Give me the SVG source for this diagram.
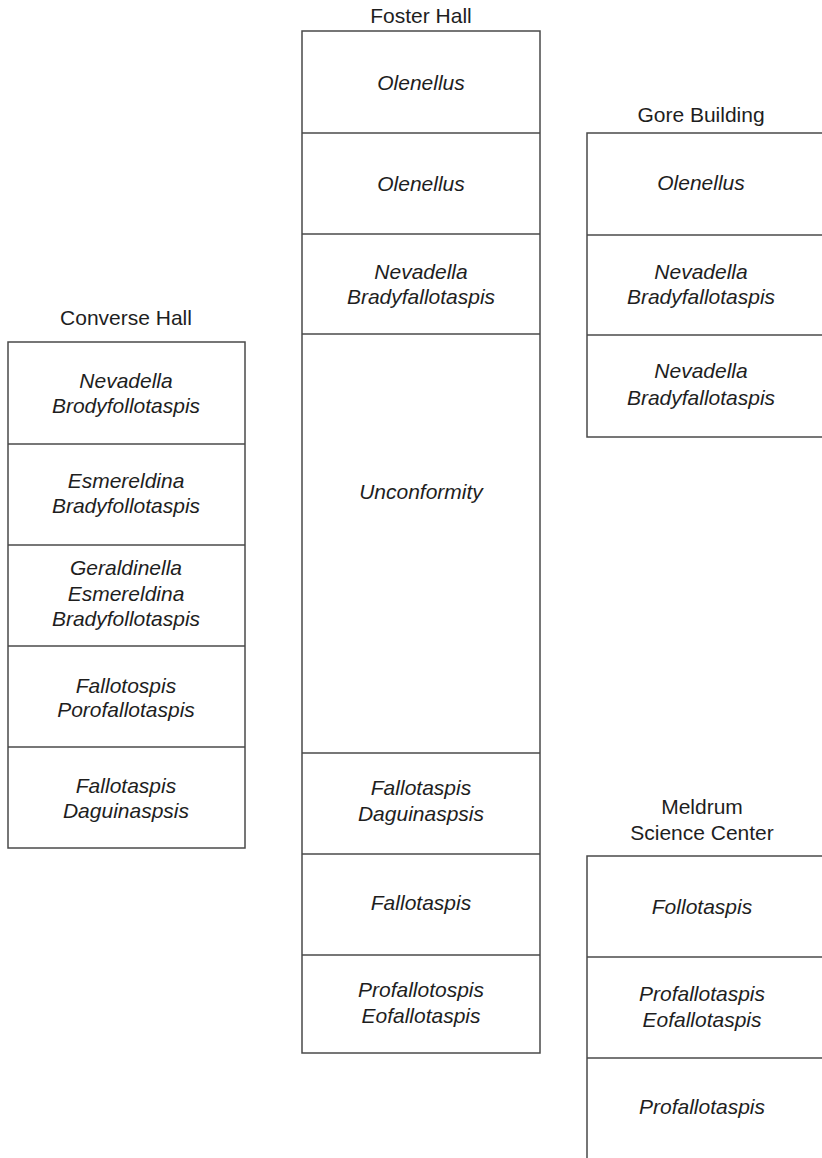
<svg xmlns="http://www.w3.org/2000/svg" width="822" height="1158" viewBox="0 0 822 1158">
<style>
  .box { fill: #ffffff; stroke: #4a4a4a; stroke-width: 1.5; }
  .div { stroke: #4a4a4a; stroke-width: 1.5; }
  text { font-family: "Liberation Sans", Arial, sans-serif; font-size: 21px; fill: #1e1e1e; text-anchor: middle; }
  .t { font-style: italic; }
</style>
<rect width="822" height="1158" fill="#ffffff"/>

<g id="converse-hall">
  <text x="126" y="325">Converse Hall</text>
  <rect class="box" x="8" y="342" width="237" height="506"/>
  <line class="div" x1="8" y1="444" x2="245" y2="444"/>
  <line class="div" x1="8" y1="545" x2="245" y2="545"/>
  <line class="div" x1="8" y1="646" x2="245" y2="646"/>
  <line class="div" x1="8" y1="747" x2="245" y2="747"/>
  <text class="t" x="126" y="388">Nevadella</text>
  <text class="t" x="126" y="413">Brodyfollotaspis</text>
  <text class="t" x="126" y="488">Esmereldina</text>
  <text class="t" x="126" y="513">Bradyfollotaspis</text>
  <text class="t" x="126" y="575">Geraldinella</text>
  <text class="t" x="126" y="600.5">Esmereldina</text>
  <text class="t" x="126" y="626">Bradyfollotaspis</text>
  <text class="t" x="126" y="693">Fallotospis</text>
  <text class="t" x="126" y="717">Porofallotaspis</text>
  <text class="t" x="126" y="793">Fallotaspis</text>
  <text class="t" x="126" y="818">Daguinaspsis</text>
</g>

<g id="foster-hall">
  <text x="421" y="23">Foster Hall</text>
  <rect class="box" x="302" y="31" width="238" height="1022"/>
  <line class="div" x1="302" y1="133" x2="540" y2="133"/>
  <line class="div" x1="302" y1="234" x2="540" y2="234"/>
  <line class="div" x1="302" y1="334" x2="540" y2="334"/>
  <line class="div" x1="302" y1="753" x2="540" y2="753"/>
  <line class="div" x1="302" y1="854" x2="540" y2="854"/>
  <line class="div" x1="302" y1="955" x2="540" y2="955"/>
  <text class="t" x="421" y="90">Olenellus</text>
  <text class="t" x="421" y="190.5">Olenellus</text>
  <text class="t" x="421" y="279">Nevadella</text>
  <text class="t" x="421" y="304">Bradyfallotaspis</text>
  <text class="t" x="421" y="499">Unconformity</text>
  <text class="t" x="421" y="795">Fallotaspis</text>
  <text class="t" x="421" y="821">Daguinaspsis</text>
  <text class="t" x="421" y="910">Fallotaspis</text>
  <text class="t" x="421" y="997">Profallotospis</text>
  <text class="t" x="421" y="1023">Eofallotaspis</text>
</g>

<g id="gore-building">
  <text x="701" y="122">Gore Building</text>
  <rect class="box" x="587" y="133" width="250" height="304"/>
  <line class="div" x1="587" y1="235" x2="837" y2="235"/>
  <line class="div" x1="587" y1="335" x2="837" y2="335"/>
  <text class="t" x="701" y="190">Olenellus</text>
  <text class="t" x="701" y="279">Nevadella</text>
  <text class="t" x="701" y="303.5">Bradyfallotaspis</text>
  <text class="t" x="701" y="378">Nevadella</text>
  <text class="t" x="701" y="405">Bradyfallotaspis</text>
</g>

<g id="meldrum-science-center">
  <text x="702" y="814">Meldrum</text>
  <text x="702" y="840">Science Center</text>
  <rect class="box" x="587" y="856" width="250" height="320"/>
  <line class="div" x1="587" y1="957" x2="837" y2="957"/>
  <line class="div" x1="587" y1="1058" x2="837" y2="1058"/>
  <text class="t" x="702" y="914">Follotaspis</text>
  <text class="t" x="702" y="1001">Profallotaspis</text>
  <text class="t" x="702" y="1027">Eofallotaspis</text>
  <text class="t" x="702" y="1114">Profallotaspis</text>
</g>

<g id="connectors"></g>
</svg>
